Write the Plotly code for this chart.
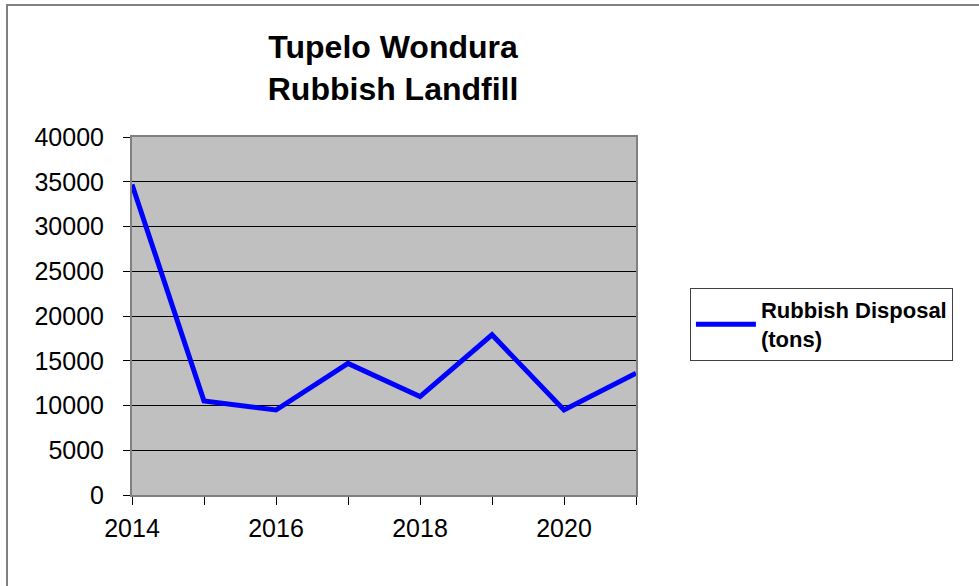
import plotly.graph_objects as go

# Data
years = [2014, 2015, 2016, 2017, 2018, 2019, 2020, 2021]
disposal_tons = [34700, 10500, 9500, 14700, 11000, 17900, 9500, 13600]
year_ticks = [2014, 2015, 2016, 2017, 2018, 2019, 2020, 2021]
year_labels = ["2014", "", "2016", "", "2018", "", "2020", ""]

FONT = "Arial, Liberation Sans, sans-serif"

fig = go.Figure()

fig.add_trace(go.Scatter(
    x=years,
    y=disposal_tons,
    mode="lines",
    name="<b>Rubbish Disposal<br>(tons)</b>",
    line=dict(color="#0000FF", width=5),
))

# outer chart frame (runs off the right/bottom edge like the reference)
fig.add_shape(type="rect", xref="paper", yref="paper",
              x0=-0.248, x1=2.0, y0=-1.0, y1=1.369,
              line=dict(color="#808080", width=2), layer="below")

fig.update_layout(
    width=979,
    height=586,
    margin=dict(l=132, r=343, t=137, b=91),
    paper_bgcolor="white",
    plot_bgcolor="#C0C0C0",
    font=dict(family=FONT, color="black"),
    title=dict(
        text="<b>Tupelo Wondura<br>Rubbish Landfill</b>",
        x=0.4015, xref="container", xanchor="center",
        y=1 - 58 / 586, yref="container", yanchor="top",
        font=dict(family=FONT, size=32, color="black"),
    ),
    showlegend=True,
    legend=dict(
        x=1.107, y=0.578, xanchor="left", yanchor="top",
        bordercolor="#404040", borderwidth=1, bgcolor="white",
        font=dict(family=FONT, size=22, color="black"),
        itemwidth=60,
    ),
)

fig.update_xaxes(
    range=[2014, 2021],
    tickmode="array", tickvals=year_ticks, ticktext=year_labels,
    ticks="outside", ticklen=8, tickcolor="black",
    ticklabelstandoff=2,
    tickfont=dict(family=FONT, size=25, color="black"),
    showgrid=False, zeroline=False,
    showline=True, linecolor="#808080", linewidth=2, mirror=True,
)

fig.update_yaxes(
    range=[0, 40000], dtick=5000, tickformat="d",
    ticks="outside", ticklen=7, tickcolor="black",
    ticklabelstandoff=14,
    tickfont=dict(family=FONT, size=25, color="black"),
    showgrid=True, gridcolor="black", gridwidth=1, zeroline=False,
    showline=True, linecolor="#808080", linewidth=2, mirror=True,
)

# drop the browser's default body margin so the figure sits at (0, 0)
fig.write_html("out.html", config={"displayModeBar": False},
               post_script="document.body.style.margin='0';")
